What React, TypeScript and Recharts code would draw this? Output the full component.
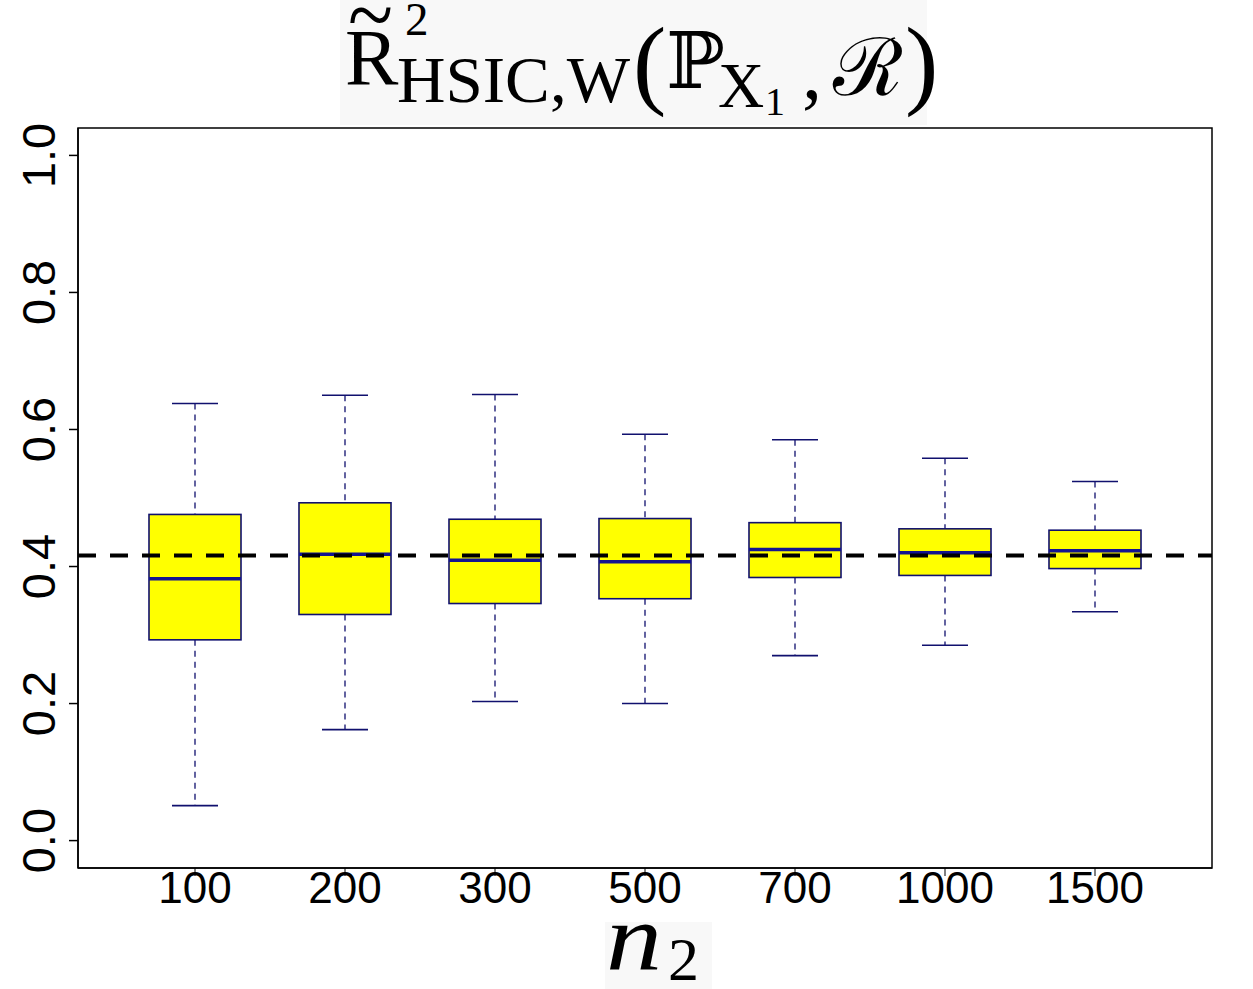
import React from 'react';
import { ComposedChart, Bar, XAxis, YAxis, ReferenceLine } from 'recharts';

const categories = ['100', '200', '300', '500', '700', '1000', '1500'];
const whiskerLow = [0.051, 0.162, 0.203, 0.2, 0.27, 0.285, 0.334];
const q1 = [0.293, 0.33, 0.346, 0.353, 0.384, 0.387, 0.397];
const median = [0.382, 0.418, 0.409, 0.407, 0.425, 0.42, 0.423];
const q3 = [0.476, 0.493, 0.469, 0.47, 0.464, 0.455, 0.453];
const whiskerHigh = [0.638, 0.65, 0.651, 0.593, 0.585, 0.558, 0.524];
const referenceValue = 0.416;
const yTicks = [0, 0.2, 0.4, 0.6, 0.8, 1.0];

const data = categories.map((c, i) => ({
  name: c,
  range: [whiskerLow[i], whiskerHigh[i]],
  lo: whiskerLow[i],
  q1: q1[i],
  med: median[i],
  q3: q3[i],
  hi: whiskerHigh[i],
}));

const NAVY = '#10106e';
const MED = '#141490';

const BoxShape = (props: any) => {
  const { x, y, width, height, payload } = props;
  if (payload == null) return null;
  const top = Math.min(y, y + height);
  const h = Math.abs(height);
  const { lo, hi } = payload;
  const pix = (v: number) => top + ((hi - v) / (hi - lo)) * h;
  const cx = x + width / 2;
  const bw = 92;
  const cw = 46;
  const yHi = pix(payload.hi);
  const yQ3 = pix(payload.q3);
  const yMed = pix(payload.med);
  const yQ1 = pix(payload.q1);
  const yLo = pix(payload.lo);
  return (
    <g>
      <line x1={cx} x2={cx} y1={yHi} y2={yQ3} stroke={NAVY} strokeWidth={1.3} strokeDasharray="6 5" />
      <line x1={cx} x2={cx} y1={yQ1} y2={yLo} stroke={NAVY} strokeWidth={1.3} strokeDasharray="6 5" />
      <line x1={cx - cw / 2} x2={cx + cw / 2} y1={yHi} y2={yHi} stroke={NAVY} strokeWidth={1.6} />
      <line x1={cx - cw / 2} x2={cx + cw / 2} y1={yLo} y2={yLo} stroke={NAVY} strokeWidth={1.6} />
      <rect x={cx - bw / 2} y={yQ3} width={bw} height={yQ1 - yQ3} fill="#ffff00" stroke={NAVY} strokeWidth={1.6} />
      <line x1={cx - bw / 2} x2={cx + bw / 2} y1={yMed} y2={yMed} stroke={MED} strokeWidth={3.5} />
    </g>
  );
};

const YTick = (props: any) => {
  const { y, payload } = props;
  const tx = 55;
  return (
    <text
      x={tx}
      y={y}
      textAnchor="middle"
      transform={`rotate(-90, ${tx}, ${y})`}
      fontFamily="'Liberation Sans', Arial, sans-serif"
      fontSize={47}
      fill="#000"
    >
      {Number(payload.value).toFixed(1)}
    </text>
  );
};

const XTick = (props: any) => {
  const { x, payload } = props;
  return (
    <text
      x={x}
      y={903}
      textAnchor="middle"
      fontFamily="'Liberation Sans', Arial, sans-serif"
      fontSize={44}
      fill="#000"
    >
      {payload.value}
    </text>
  );
};

const serif = "'Liberation Serif', 'DejaVu Serif', serif";

export default function App() {
  return (
    <div style={{ position: 'absolute', left: 0, top: 0, width: 1253, height: 989, background: '#fff' }}>
      <ComposedChart
        width={1253}
        height={989}
        data={data}
        margin={{ top: 128, right: 41, left: 0, bottom: 61 }}
      >
        <XAxis
          dataKey="name"
          type="category"
          padding={{ left: 42, right: 42 }}
          height={60}
          axisLine={{ stroke: '#000', strokeWidth: 1.5 }}
          tickLine={{ stroke: '#000', strokeWidth: 1 }}
          tickSize={8}
          tick={<XTick />}
          interval={0}
        />
        <YAxis
          type="number"
          domain={[-0.04, 1.04]}
          ticks={yTicks}
          width={78}
          axisLine={{ stroke: '#000', strokeWidth: 1.5 }}
          tickLine={{ stroke: '#000', strokeWidth: 1.5 }}
          tickSize={9}
          tick={<YTick />}
          interval={0}
          allowDataOverflow
        />
        <Bar dataKey="range" barSize={92} shape={<BoxShape />} isAnimationActive={false} />
        <ReferenceLine y={referenceValue} stroke="#000" strokeWidth={4} strokeDasharray="18 14" />
      </ComposedChart>
      <svg
        width={1253}
        height={989}
        style={{ position: 'absolute', left: 0, top: 0, pointerEvents: 'none' }}
      >
        <rect x={78} y={128} width={1134} height={740} fill="none" stroke="#000" strokeWidth={1.5} />
        <rect x={340} y={0} width={587} height={125} fill="#f8f8f8" />
        <g fontFamily={serif} fill="#000">
          <text x={345} y={85} fontSize={80}>R</text>
          <text x={348} y={45} fontSize={90} textLength={45} lengthAdjust="spacingAndGlyphs">~</text>
          <text x={405} y={35} fontSize={47}>2</text>
          <text x={397} y={102} fontSize={66} textLength={233} lengthAdjust="spacingAndGlyphs">HSIC,W</text>
          <text x={633} y={96} fontSize={100}>(</text>
          <text x={666} y={88} fontSize={78}>ℙ</text>
          <text x={718} y={107} fontSize={64}>X</text>
          <text x={765} y={115} fontSize={40}>1</text>
          <text x={802} y={98} fontSize={80}>,</text>
          <text x={833} y={95} fontSize={80}>ℛ</text>
          <text x={905} y={96} fontSize={100}>)</text>
        </g>
        <rect x={605} y={922} width={107} height={67} fill="#f8f8f8" />
        <g fontFamily={serif} fill="#000">
          <text x={606} y={970} fontSize={96} fontStyle="italic" textLength={56} lengthAdjust="spacingAndGlyphs">n</text>
          <text x={668} y={980} fontSize={62}>2</text>
        </g>
      </svg>
    </div>
  );
}
